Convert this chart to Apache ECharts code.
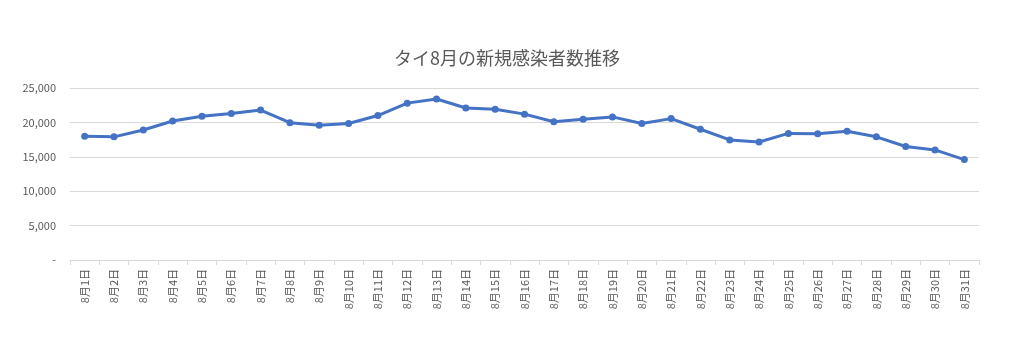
<!DOCTYPE html>
<html lang="ja">
<head>
    <meta charset="UTF-8">
    <title>タイ8月の新規感染者数推移</title>
    <script src="https://cdn.jsdelivr.net/npm/echarts@6/dist/echarts.min.js"></script>
    <style>
        html, body { margin: 0; padding: 0; background: #fff; }
    </style>
</head>
<body>
    <div id="main" style="width: 1024px; height: 353px;"></div>
    <script>
        var days = [];
        for (var d = 1; d <= 31; d++) days.push('8月' + d + '日');

        var cases = [18000, 17900, 18900, 20200, 20900, 21300, 21800, 19950, 19600, 19850,
                     21000, 22800, 23400, 22100, 21900, 21200, 20100, 20450, 20800, 19850,
                     20550, 19000, 17450, 17150, 18400, 18350, 18700, 17900, 16500, 16000,
                     14600];

        var yTicks = [0, 5000, 10000, 15000, 20000, 25000];

        var font = '"Noto Sans CJK JP", sans-serif';
        var myChart = echarts.init(document.getElementById('main'));

        option = {
            backgroundColor: '#ffffff',
            title: {
                text: 'タイ8月の新規感染者数推移',
                left: 389,
                top: 44,
                textStyle: { fontFamily: font, fontSize: 18, fontWeight: 'normal', color: '#595959' }
            },
            grid: { left: 70, right: 45, top: 88, bottom: 93 },
            xAxis: {
                type: 'category',
                data: days,
                boundaryGap: true,
                axisLine: { lineStyle: { color: '#d9d9d9', width: 1 } },
                axisTick: { show: true, length: 5, lineStyle: { color: '#d9d9d9' } },
                axisLabel: {
                    rotate: 90,
                    interval: 0,
                    margin: 9,
                    fontFamily: font,
                    fontSize: 11,
                    color: '#595959'
                }
            },
            yAxis: {
                type: 'value',
                min: yTicks[0],
                max: yTicks[yTicks.length - 1],
                interval: 5000,
                axisLine: { show: false },
                axisTick: { show: false },
                splitLine: { lineStyle: { color: '#d9d9d9', width: 1 } },
                axisLabel: {
                    margin: 14,
                    fontFamily: font,
                    fontSize: 11,
                    color: '#595959',
                    formatter: function (v) {
                        return v === 0 ? '-' : v.toLocaleString('en-US');
                    }
                }
            },
            series: [
                {
                    name: '新規感染者数',
                    type: 'line',
                    data: cases,
                    symbol: 'circle',
                    symbolSize: 7,
                    lineStyle: { color: '#4472c4', width: 3 },
                    itemStyle: { color: '#4472c4' },
                    animation: false
                }
            ]
        };

        myChart.setOption(option);
    </script>
</body>
</html>
